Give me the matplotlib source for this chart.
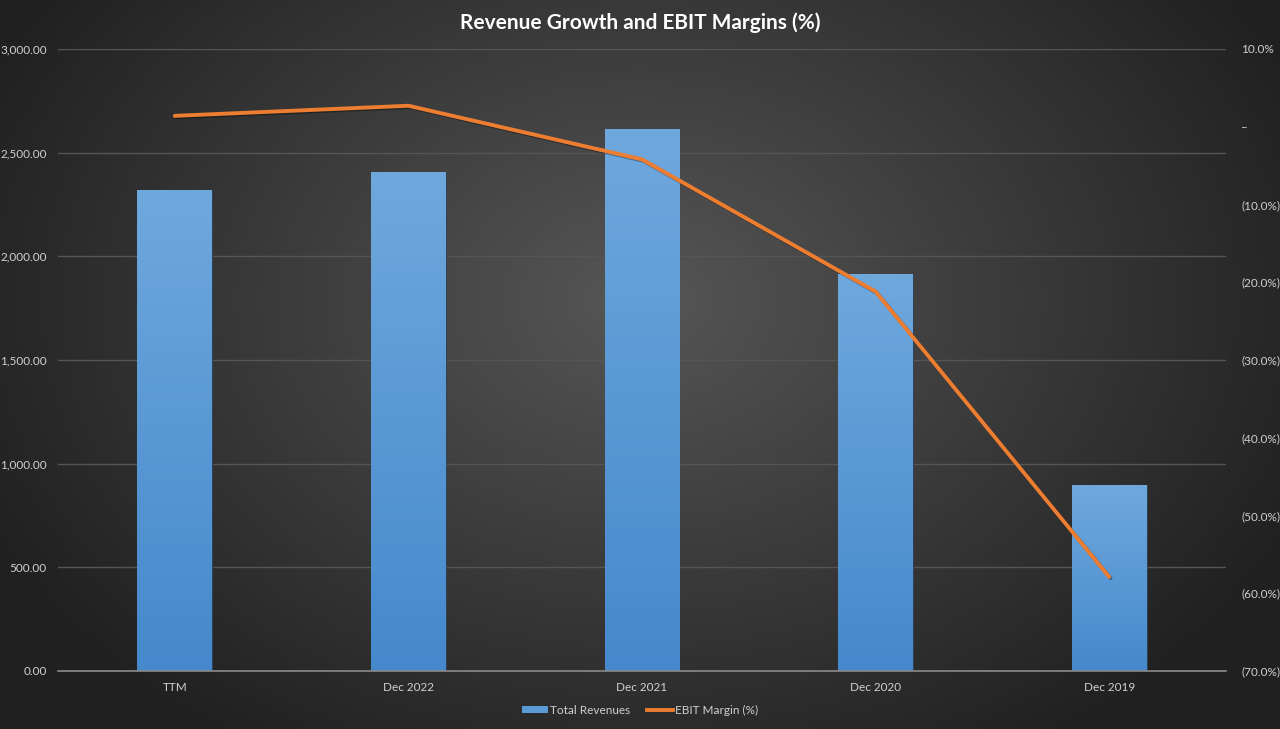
import numpy as np
import matplotlib
matplotlib.use("Agg")
import matplotlib.pyplot as plt
from matplotlib.ticker import FuncFormatter
from matplotlib.colors import LinearSegmentedColormap
import matplotlib.patheffects as pe
from matplotlib.lines import Line2D
from matplotlib.patches import Patch

# data
categories = ["TTM", "Dec 2022", "Dec 2021", "Dec 2020", "Dec 2019"]
revenues = [2320, 2407, 2615, 1915, 897]
ebit_margin = [1.4, 2.7, -4.2, -21.2, -57.9]

plt.rcParams["font.family"] = ["Lato", "DejaVu Sans"]

fig = plt.figure(figsize=(12.8, 7.29), dpi=100)

# radial background, lighter in the middle
bg = fig.add_axes([0, 0, 1, 1], zorder=-10)
yy, xx = np.mgrid[0:729, 0:1280]
r = np.sqrt(((xx - 640) / 760.0) ** 2 + ((yy - 300) / 560.0) ** 2)
shade = np.clip(0.34 - 0.22 * r, 0.13, 0.34)
bg.imshow(shade, cmap="gray", vmin=0, vmax=1, aspect="auto", extent=[0, 1, 0, 1])
bg.axis("off")

ax = fig.add_axes([0.0453, 0.0796, 0.9125, 0.8532])
ax.patch.set_alpha(0)
x = np.arange(len(categories))

bars = ax.bar(x, revenues, width=0.32, color="#5b9bd5", edgecolor="#2b3b4b",
              linewidth=0.6, zorder=2)
grad = np.linspace(0, 1, 256).reshape(-1, 1)
bar_cmap = LinearSegmentedColormap.from_list("bar", ["#4589cc", "#6fa8dd"])
for b in bars:
    im = ax.imshow(grad, cmap=bar_cmap, aspect="auto", origin="lower",
                   extent=[b.get_x(), b.get_x() + b.get_width(), 0, b.get_height()],
                   zorder=2.5)
    im.set_clip_path(b)

ax.set_xlim(-0.5, len(categories) - 0.5)
ax.set_ylim(0, 3000)
ax.set_yticks(np.arange(0, 3001, 500))
ax.yaxis.set_major_formatter(FuncFormatter(lambda v, p: f"{v:,.2f}"))
ax.set_xticks(x)
ax.set_xticklabels(categories)
ax.grid(axis="y", color="#555555", linewidth=1, zorder=0)
ax.set_axisbelow(True)
for s in ["top", "right", "left"]:
    ax.spines[s].set_visible(False)
ax.spines["bottom"].set_color("#8a8a8a")
ax.spines["bottom"].set_linewidth(1.2)
ax.tick_params(axis="both", length=0, colors="#d0d0d0", labelsize=8.5, pad=8)

ax2 = ax.twinx()
ax2.set_ylim(-70, 10)
ax2.set_yticks(np.arange(-70, 11, 10))


def pct(v, p):
    if abs(v) < 1e-9:
        return "–"
    if v < 0:
        return f"({abs(v):.1f}%)"
    return f"{v:.1f}%"


ax2.yaxis.set_major_formatter(FuncFormatter(pct))
ax2.tick_params(axis="y", length=0, colors="#d0d0d0", labelsize=8.5, pad=11)
for s in ax2.spines.values():
    s.set_visible(False)
ax2.plot(x, ebit_margin, color="#ed7d31", linewidth=2.8, solid_capstyle="round",
         path_effects=[pe.SimpleLineShadow(offset=(1, -1), shadow_color="black", alpha=0.35),
                       pe.Normal()], zorder=5)

fig.text(0.5, 0.969, "Revenue Growth and EBIT Margins (%)", ha="center", va="center",
         color="white", fontsize=15, fontweight="bold")

handles = [Patch(facecolor="#5b9bd5", edgecolor="none"),
           Line2D([0], [0], color="#ed7d31", linewidth=2.8)]
fig.legend(handles, ["Total Revenues", "EBIT Margin (%)"], loc="center",
           bbox_to_anchor=(0.5, 0.026), ncol=2, frameon=False, fontsize=8.5,
           labelcolor="#d0d0d0", handlelength=2.2, handleheight=0.6,
           handletextpad=0.1, columnspacing=1.5)

fig.savefig("out.png", dpi=100)
